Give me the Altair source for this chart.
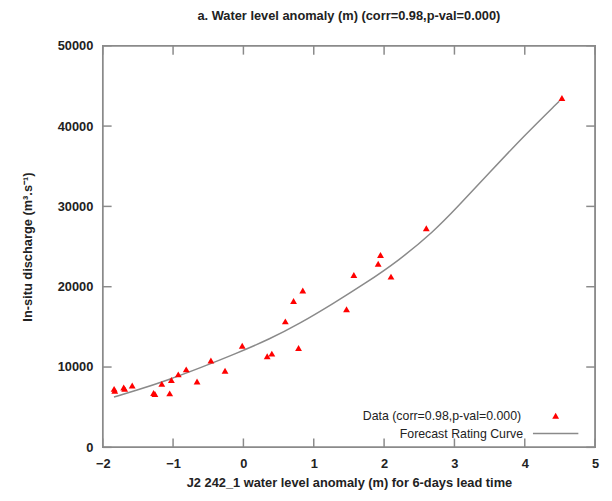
import altair as alt
import pandas as pd

# Observed data (water level anomaly m, discharge m3/s)
obs_x = [-1.838, -1.829, -1.702, -1.688, -1.581, -1.277, -1.258, -1.160, -1.048, -1.024,
         -0.926, -0.813, -0.659, -0.462, -0.261, -0.017, 0.338, 0.404, 0.784, 0.596,
         0.713, 0.844, 1.466, 1.570, 1.916, 1.949, 2.098, 2.600, 4.528]
obs_y = [7285, 7040, 7457, 7285, 7703, 6757, 6634, 7899, 6720, 8390,
         9091, 9705, 8194, 10811, 9545, 12654, 11339, 11671, 12371, 15688,
         18219, 19533, 17199, 21462, 22850, 23956, 21253, 27273, 43489]

# Forecast rating curve
curve_x = [-1.84, -1.54, -1.07, -0.60, -0.14, 0.38, 0.79, 1.26, 1.73, 2.20, 2.71, 3.04, 3.51, 3.98, 4.49]
curve_y = [6270, 7040, 8390, 9950, 11550, 13500, 15360, 17810, 20400, 23200, 26900, 29900, 34300, 38700, 43100]

x_ticks = [-2, -1, 0, 1, 2, 3, 4, 5]
y_ticks = [0, 10000, 20000, 30000, 40000, 50000]

W, H = 499, 407
TL = 9
FONT = "Liberation Sans"
INK = "#222222"
FRAME = "#8a8a8a"
X0, X1, Y0, Y1 = -2, 5, 0, 50000

obs = pd.DataFrame({"x": obs_x, "y": obs_y})
curve = pd.DataFrame({"x": curve_x, "y": curve_y})

xs = alt.Scale(domain=[X0, X1], nice=False, zero=False)
ys = alt.Scale(domain=[Y0, Y1], nice=False)

x_axis = alt.Axis(values=x_ticks, format="d", ticks=False, domain=False, grid=False,
                  labelFlush=False, labelOverlap=False,
                  labelFont=FONT, labelFontSize=13, labelFontWeight="bold", labelColor=INK,
                  labelPadding=10,
                  title="J2 242_1 water level anomaly (m) for 6-days lead time",
                  titleFont=FONT, titleFontSize=13, titleFontWeight="bold", titleColor=INK,
                  titleY=36, titleBaseline="middle")
y_axis = alt.Axis(values=y_ticks, format="d", ticks=False, domain=False, grid=False,
                  labelFlush=False, labelOverlap=False,
                  labelFont=FONT, labelFontSize=13, labelFontWeight="bold", labelColor=INK,
                  labelPadding=10,
                  title="In-situ discharge (m³.s⁻¹)",
                  titleFont=FONT, titleFontSize=13, titleFontWeight="bold", titleColor=INK,
                  titleX=-76, titleY=H / 2, titleBaseline="middle", titleAngle=-90)

points = alt.Chart(obs).mark_point(shape="triangle-up", filled=True, color="#ff0000",
                                   size=48, opacity=1).encode(
    x=alt.X("x:Q", scale=xs, axis=x_axis),
    y=alt.Y("y:Q", scale=ys, axis=y_axis),
)

line = alt.Chart(curve).mark_line(color="#8a8a8a", strokeWidth=1.5,
                                  interpolate="basis").encode(
    x=alt.X("x:Q", scale=xs),
    y=alt.Y("y:Q", scale=ys),
)

# plot frame drawn as a closed line through the corners of the axis domains
frame_df = pd.DataFrame({"fx": [X0, X1, X1, X0, X0], "fy": [Y0, Y0, Y1, Y1, Y0],
                         "k": [0, 1, 2, 3, 4]})
frame = alt.Chart(frame_df).mark_line(color=FRAME, strokeWidth=1.5, clip=False).encode(
    x=alt.X("fx:Q", scale=xs), y=alt.Y("fy:Q", scale=ys), order="k:O")

# inward tick segments, built from the tick lists (tick length in data units)
dx = (X1 - X0) * TL / W
dy = (Y1 - Y0) * TL / H
rows = []
for i, t in enumerate(x_ticks):
    rows += [dict(g=f"b{i}", px=t, py=Y0), dict(g=f"b{i}", px=t, py=Y0 + dy),
             dict(g=f"t{i}", px=t, py=Y1), dict(g=f"t{i}", px=t, py=Y1 - dy)]
for i, t in enumerate(y_ticks):
    rows += [dict(g=f"l{i}", px=X0, py=t), dict(g=f"l{i}", px=X0 + dx, py=t),
             dict(g=f"r{i}", px=X1, py=t), dict(g=f"r{i}", px=X1 - dx, py=t)]
ticks_df = pd.DataFrame(rows)
ticks = alt.Chart(ticks_df).mark_line(color=FRAME, strokeWidth=1.5, clip=False).encode(
    x=alt.X("px:Q", scale=xs), y=alt.Y("py:Q", scale=ys), detail="g:N")

# legend (gnuplot style, label left of sample)
leg = pd.DataFrame({"label": ["Data (corr=0.98,p-val=0.000)", "Forecast Rating Curve"],
                    "row": [0, 1]})
leg_text0 = alt.Chart(leg[leg.row == 0]).mark_text(
    align="right", baseline="middle", font=FONT, fontSize=12.5, color=INK).encode(
    text="label:N", x=alt.value(424), y=alt.value(375))
leg_text1 = alt.Chart(leg[leg.row == 1]).mark_text(
    align="right", baseline="middle", font=FONT, fontSize=12.5, color=INK).encode(
    text="label:N", x=alt.value(426), y=alt.value(394))
leg_pt = alt.Chart(leg[leg.row == 0]).mark_point(
    shape="triangle-up", filled=True, color="#ff0000", size=48, opacity=1).encode(
    x=alt.value(459), y=alt.value(375))
leg_ln = alt.Chart(leg[leg.row == 1]).mark_rule(color="#8a8a8a", strokeWidth=1.5).encode(
    x=alt.value(436), x2=alt.value(482), y=alt.value(393))

chart = alt.layer(frame, ticks, line, points,
                  leg_text0, leg_text1, leg_pt, leg_ln).properties(
    width=W, height=H,
    background="white",
    title=alt.Title("a. Water level anomaly (m) (corr=0.98,p-val=0.000)",
                    font=FONT, fontSize=13, fontWeight="bold", color=INK, offset=17,
                    anchor="middle"),
    autosize=alt.AutoSizeParams(type="none"),
    padding={"left": 96, "top": 35, "right": 9, "bottom": 43},
).configure_view(stroke=FRAME, strokeWidth=1.5)

chart.save("out.html", embed_options={"renderer": "svg", "actions": False})
